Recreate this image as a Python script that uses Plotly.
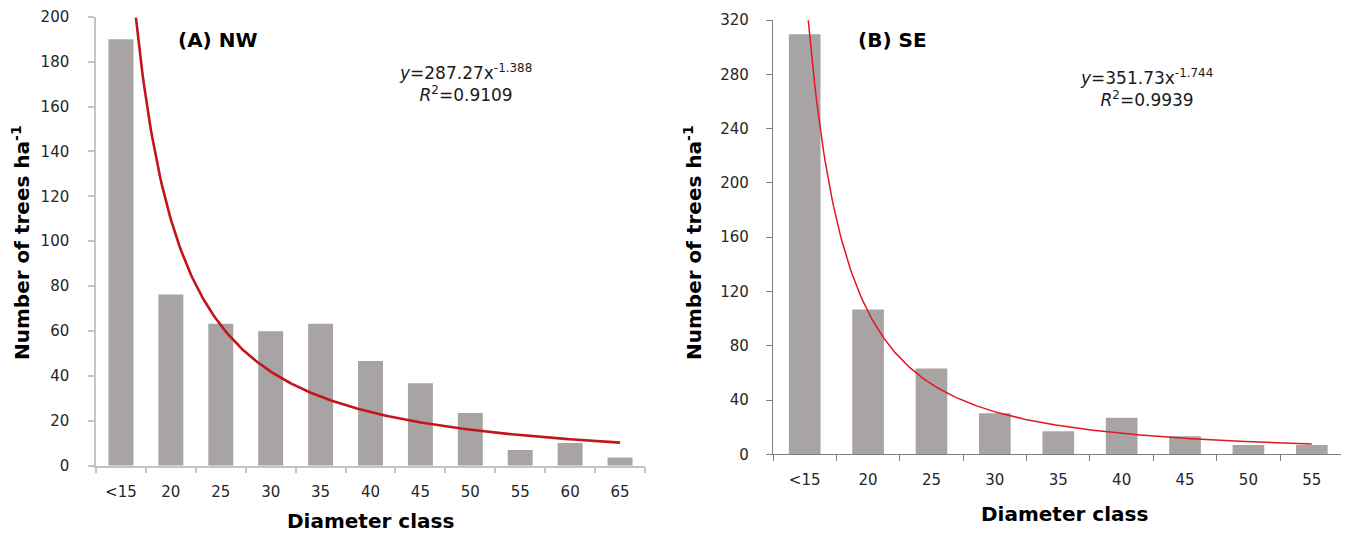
import numpy as np
import plotly.graph_objects as go

# ---- data ----
cats_nw = ["<15", "20", "25", "30", "35", "40", "45", "50", "55", "60", "65"]
trees_nw = [190, 76.3, 63.2, 59.9, 63.2, 46.6, 36.7, 23.5, 7.0, 10.1, 3.7]
cats_se = ["<15", "20", "25", "30", "35", "40", "45", "50", "55"]
trees_se = [309.5, 106.7, 63.3, 30.2, 16.9, 27.0, 13.3, 6.9, 6.9]

# power-law trendlines shown on the chart: y = a * x^b
a_nw, b_nw = 287.27, -1.388
a_se, b_se = 351.73, -1.744

OFF = 8  # page body margin
W, H = 1349 - OFF, 533 - OFF
FONT = "DejaVu Sans"

def px(x):
    return (x - OFF) / W

def py(y):
    return 1 - (y - OFF) / H

fig = go.Figure()

pos_nw = list(range(1, len(cats_nw) + 1))
pos_se = list(range(1, len(cats_se) + 1))

fig.add_trace(go.Bar(x=pos_nw, y=trees_nw, width=0.5, marker_color="#a8a4a4",
                     marker_line_width=0, xaxis="x", yaxis="y", showlegend=False))
xs = np.linspace(1.3, 11, 300)
fig.add_trace(go.Scatter(x=xs, y=a_nw * xs ** b_nw, mode="lines",
                         line=dict(color="#c3151c", width=2.6), xaxis="x", yaxis="y",
                         showlegend=False))

fig.add_trace(go.Bar(x=pos_se, y=trees_se, width=0.5, marker_color="#a8a4a4",
                     marker_line_width=0, xaxis="x2", yaxis="y2", showlegend=False))
xs2 = np.linspace(1.056, 9, 300)
fig.add_trace(go.Scatter(x=xs2, y=a_se * xs2 ** b_se, mode="lines",
                         line=dict(color="#e3171d", width=1.5), xaxis="x2", yaxis="y2",
                         showlegend=False))

tickfont = dict(family=FONT, size=15, color="#262626")

fig.update_layout(
    template="none",
    width=W, height=H,
    margin=dict(l=0, r=0, t=0, b=0, pad=0),
    paper_bgcolor="white", plot_bgcolor="white",
    showlegend=False,
    xaxis=dict(domain=[px(96), px(645)], range=[0.5, len(cats_nw) + 0.5], automargin=False,
               tickmode="array", tickvals=pos_nw, ticktext=cats_nw, ticks="",
               showline=True, linecolor="#c4c4c4", linewidth=1.5, showgrid=False,
               zeroline=False, tickfont=tickfont, ticklabelstandoff=12,
               ticklabeloverflow="allow",
               minor=dict(tick0=0.5, dtick=1, ticks="outside", ticklen=6,
                          tickcolor="#c4c4c4", tickwidth=1.5, showgrid=False)),
    yaxis=dict(domain=[py(465.7), py(16.7)], range=[0, 200], dtick=20, automargin=False,
               showline=True, linecolor="#c4c4c4", linewidth=1.5, showgrid=False,
               zeroline=False, ticks="outside", ticklen=6, tickcolor="#c4c4c4",
               tickwidth=1.5, tickfont=tickfont, ticklabelstandoff=16,
               ticklabeloverflow="allow"),
    xaxis2=dict(domain=[px(773), px(1343.5)], range=[0.5, len(cats_se) + 0.5],
                anchor="y2", automargin=False,
                tickmode="array", tickvals=pos_se, ticktext=cats_se, ticks="",
                showline=True, linecolor="#808080", linewidth=1.2, showgrid=False,
                zeroline=False, tickfont=tickfont, ticklabelstandoff=12,
                ticklabeloverflow="allow",
                minor=dict(tick0=0.5, dtick=1, ticks="outside", ticklen=6,
                           tickcolor="#808080", tickwidth=1.2, showgrid=False)),
    yaxis2=dict(domain=[py(454.3), py(20)], range=[0, 320], dtick=40, anchor="x2",
                automargin=False,
                showline=True, linecolor="#808080", linewidth=1.2, showgrid=False,
                zeroline=False, ticks="outside", ticklen=6, tickcolor="#808080",
                tickwidth=1.2, tickfont=tickfont, ticklabelstandoff=14,
                ticklabeloverflow="allow"),
)

ann = []
bold = dict(family=FONT, size=20, color="black")
common = dict(xref="paper", yref="paper", showarrow=False)
ann.append(dict(x=px(21), y=py(243), text="<b>Number of trees ha<sup>-1</sup></b>",
                textangle=-90, font=bold, xanchor="center", yanchor="middle", **common))
ann.append(dict(x=px(693), y=py(243), text="<b>Number of trees ha<sup>-1</sup></b>",
                textangle=-90, font=bold, xanchor="center", yanchor="middle", **common))
ann.append(dict(x=px(370), y=py(521), text="<b>Diameter class</b>", font=bold,
                xanchor="center", yanchor="middle", **common))
ann.append(dict(x=px(1064), y=py(514), text="<b>Diameter class</b>", font=bold,
                xanchor="center", yanchor="middle", **common))
ann.append(dict(x=px(176), y=py(40), text="<b>(A) NW</b>", font=dict(family=FONT, size=20, color="black"),
                xanchor="left", yanchor="middle", **common))
ann.append(dict(x=px(856), y=py(40), text="<b>(B) SE</b>", font=dict(family=FONT, size=20, color="black"),
                xanchor="left", yanchor="middle", **common))
eqfont = dict(family=FONT, size=17, color="#1a1a1a")
ann.append(dict(x=px(465), y=py(83),
                text=f"<i>y</i>={a_nw}x<sup>{b_nw}</sup><br><i>R</i><sup>2</sup>=0.9109",
                font=eqfont, xanchor="center", yanchor="middle", align="center", **common))
ann.append(dict(x=px(1146), y=py(88),
                text=f"<i>y</i>={a_se}x<sup>{b_se}</sup><br><i>R</i><sup>2</sup>=0.9939",
                font=eqfont, xanchor="center", yanchor="middle", align="center", **common))
fig.update_layout(annotations=ann)

fig.write_html("out.html")
